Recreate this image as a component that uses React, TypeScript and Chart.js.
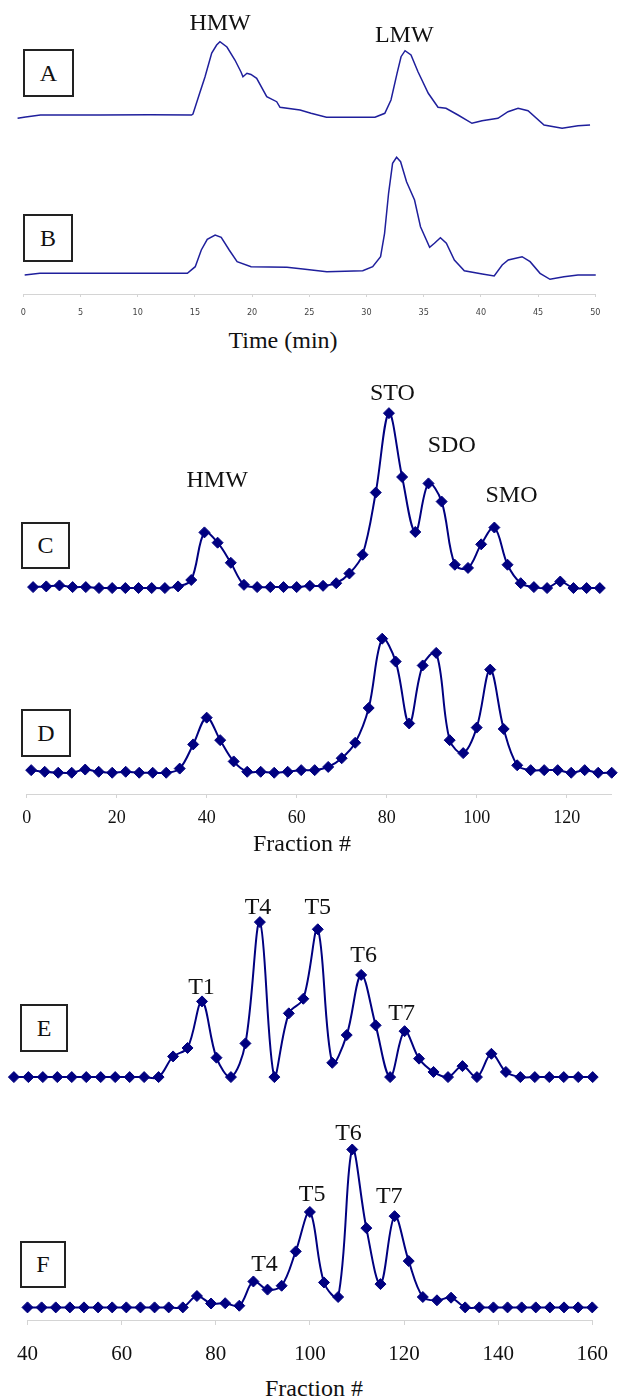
import { useEffect, useRef } from "react";
import { Chart, registerables } from "chart.js";

Chart.register(...registerables);

// ---------- Panel A / B : continuous traces (time in min, signal in arbitrary units) ----------
const timeA = [-0.5, 0.2, 1.5, 6.7, 11.1, 14.7, 14.83, 15.45, 15.88, 16.47, 16.9, 17.19, 17.8, 18.5, 19.03, 19.2, 19.55, 19.9, 20.4, 21.28, 22.15, 22.44, 24.19, 25.15, 26.5, 30.74, 31.6, 32.14, 32.67, 33.02, 33.37, 33.89, 34.5, 35.4, 36.25, 36.95, 38.0, 39.22, 40.1, 41.49, 42.37, 43.25, 44.12, 45.52, 47.1, 48.49, 49.54];
const signalA = [11.7, 13, 15, 15, 15.3, 15, 16, 38, 53, 77, 85, 88.3, 83, 70, 58, 53.3, 56.7, 55.5, 51.7, 33.3, 28.3, 22.7, 20, 16.7, 12.7, 12.7, 16.7, 30, 56.7, 73.3, 79.3, 75, 58.3, 36.7, 22.7, 21.7, 15, 6.7, 9.3, 11.7, 18.3, 21.7, 19.3, 5, 1.7, 4.3, 5];

const timeB = [0.12, 1.45, 14.34, 15.03, 15.56, 16.08, 16.77, 17.3, 18.0, 18.69, 19.91, 23.05, 24.44, 26.53, 29.67, 30.54, 31.23, 31.58, 31.93, 32.28, 32.63, 32.98, 33.5, 34.2, 34.72, 35.52, 35.94, 36.46, 36.98, 37.68, 38.55, 40.12, 41.16, 41.86, 42.39, 43.6, 44.3, 45.17, 46.04, 47.26, 48.48, 50.04];
const signalB = [19, 20.7, 20.7, 27.3, 44, 54.7, 59, 56.7, 44, 32.3, 27.3, 26.7, 25, 22.3, 23.3, 27.3, 37.3, 60.7, 100.7, 130.7, 136.7, 132.3, 112.3, 94, 67.3, 46.7, 50.7, 56.3, 50.7, 34, 23.3, 20, 18, 29, 34, 37.3, 32.3, 20.7, 14.7, 17.3, 19, 19];

const timeTicksStep = 5;

const peakNamesA = ["HMW", "LMW"];
const peakTimeA = [17.2, 33.3];
const peakLevelA = [106.5, 94];

// ---------- Panel C / D : fractions ----------
const fractionsCD = [1, 4, 7, 10, 13, 16, 19, 22, 25, 28, 31, 34, 37, 40, 43, 46, 49, 52, 55, 58, 61, 64, 67, 70, 73, 76, 79, 82, 85, 88, 91, 94, 97, 100, 103, 106, 109, 112, 115, 118, 121, 124, 127, 130];
const valuesC = [1, 1.7, 2.7, 1, 1, 0, 0, 0, 0, 0, 0, 1.7, 8.3, 57.3, 46.7, 26, 3.3, 1, 1, 1, 1, 2.3, 2.3, 5, 15, 34.3, 98.3, 180, 114.3, 57.7, 107.7, 89, 24, 20.7, 45, 62.3, 24, 5, 1, 0, 6.7, 0, 0, 0];
const valuesD = [2.7, 1, 0, 0, 3.3, 1, 0, 1, 0, 0, 0, 4.3, 29.3, 57, 33.7, 11.7, 1, 1, 0, 1, 2.7, 2.7, 6, 15, 31, 67, 138.7, 115, 51, 111, 124, 33.7, 20.3, 46.7, 106.7, 45.3, 7.7, 2.7, 2.7, 2.7, 0, 2.7, 0, 0];

const peakNamesC = ["HMW", "STO", "SDO", "SMO"];
const peakFracC = [42.9, 82.8, 96.3, 109.9];
const peakLevelC = [110, 200, 146, 95];

// ---------- Panel E / F : fractions ----------
const fractionsEF = [40, 43, 46, 49, 52, 55, 58, 61, 64, 67, 70, 73, 76, 79, 82, 85, 88, 91, 94, 97, 100, 103, 106, 109, 112, 115, 118, 121, 124, 127, 130, 133, 136, 139, 142, 145, 148, 151, 154, 157, 160];
const valuesE = [0, 0, 0, 0, 0, 0, 0, 0, 0, 0, 0, 21.3, 30, 78, 20, 0, 34.7, 159.7, 0, 65.7, 80.7, 152.3, 14.7, 43.3, 105.3, 53.3, 0, 47.3, 19, 5.3, 0, 11.3, 0, 24, 5.3, 0, 0, 0, 0, 0, 0];
const valuesF = [0, 0, 0, 0, 0, 0, 0, 0, 0, 0, 0, 0, 11.7, 4, 4.3, 1.7, 26.7, 18.3, 22.3, 57.7, 98.3, 25.7, 10.7, 162.7, 81.7, 24, 94, 47.7, 10.7, 7.3, 10, 0, 0, 0, 0, 0, 0, 0, 0, 0, 0];

const peakNamesE = ["T1", "T4", "T5", "T6", "T7"];
const peakFracE = [78.9, 90.6, 103.0, 112.5, 120.4];
const peakLevelE = [92, 175, 175, 125, 65];

const peakNamesF = ["T4", "T5", "T6", "T7"];
const peakFracF = [90.35, 100.47, 108.2, 116.86];
const peakLevelF = [43.7, 115.7, 178.7, 113.7];

const fractionTicksStep = 20;

// ---------- styling ----------
const SERIF = '"Liberation Serif", "Times New Roman", "DejaVu Serif", serif';
const NARROW = '"Liberation Sans Narrow", "Arial Narrow", "DejaVu Sans Condensed", "Liberation Sans", sans-serif';
const NAVY = "#000080";
const TRACE = "#1f1f9c";
const AXIS_GREY = "#d4d4d4";

type AxisSpec = {
  height: number;
  step: number;
  tickLength: number;
  padding: number;
  fontFamily: string;
  fontSize: number;
  color: string;
};

type PanelProps = {
  top: number;
  chartHeight: number;
  padL: number;
  padR: number;
  padB: number;
  xMin: number;
  xMax: number;
  yMin: number;
  yMax: number;
  xs: number[];
  ys: number[];
  markers: boolean;
  axis?: AxisSpec;
  labelTexts?: string[];
  labelX?: number[];
  labelY?: number[];
};

function Panel(p: PanelProps) {
  const ref = useRef<HTMLCanvasElement | null>(null);
  const axisH = p.axis ? p.axis.height : 0;
  const height = p.chartHeight + axisH + p.padB;

  useEffect(() => {
    if (!ref.current) return;
    const texts = p.labelTexts || [];
    const lx = p.labelX || [];
    const ly = p.labelY || [];
    const labelPlugin = {
      id: "peakLabels",
      afterDatasetsDraw(chart: any) {
        const { ctx } = chart;
        const xs = chart.scales.x;
        const ys = chart.scales.y;
        ctx.save();
        ctx.font = `24px ${SERIF}`;
        ctx.fillStyle = "#111";
        ctx.textAlign = "center";
        ctx.textBaseline = "middle";
        texts.forEach((t, i) => {
          ctx.fillText(t, xs.getPixelForValue(lx[i]), ys.getPixelForValue(ly[i]));
        });
        ctx.restore();
      },
    };

    const ax = p.axis;
    const xScale: any = {
      type: "linear",
      min: p.xMin,
      max: p.xMax,
      display: !!ax,
    };
    if (ax) {
      xScale.afterFit = (s: any) => {
        s.height = ax.height;
      };
      xScale.border = { display: true, color: AXIS_GREY, width: 1 };
      xScale.grid = {
        display: true,
        drawOnChartArea: false,
        drawTicks: true,
        tickLength: ax.tickLength,
        color: AXIS_GREY,
      };
      xScale.ticks = {
        stepSize: ax.step,
        includeBounds: false,
        padding: ax.padding,
        maxRotation: 0,
        autoSkip: false,
        color: ax.color,
        font: { family: ax.fontFamily, size: ax.fontSize },
      };
    }

    const chart = new Chart(ref.current, {
      type: "line",
      data: {
        datasets: [
          {
            data: p.xs.map((x, i) => ({ x, y: p.ys[i] })),
            borderColor: p.markers ? NAVY : TRACE,
            borderWidth: p.markers ? 2 : 1.5,
            pointRadius: p.markers ? 5.5 : 0,
            pointStyle: "rectRot",
            pointBackgroundColor: NAVY,
            pointBorderColor: NAVY,
            pointBorderWidth: 1,
            tension: p.markers ? 0.35 : 0,
            fill: false,
            clip: false as any,
          },
        ],
      },
      options: {
        responsive: false,
        animation: false,
        events: [],
        layout: { padding: { left: p.padL, right: p.padR, top: 0, bottom: p.padB } },
        plugins: { legend: { display: false }, tooltip: { enabled: false } },
        scales: {
          x: xScale,
          y: { type: "linear", min: p.yMin, max: p.yMax, display: false },
        },
      },
      plugins: [labelPlugin],
    } as any);
    return () => chart.destroy();
  }, []);

  return (
    <canvas
      ref={ref}
      width={625}
      height={height}
      style={{ position: "absolute", left: 0, top: p.top, width: 625, height }}
    />
  );
}

function LetterBox({ letter, x, y, w, h }: { letter: string; x: number; y: number; w: number; h: number }) {
  return (
    <div
      style={{
        position: "absolute",
        left: x,
        top: y,
        width: w,
        height: h,
        boxSizing: "border-box",
        border: "2px solid #222",
        display: "flex",
        alignItems: "center",
        justifyContent: "center",
        fontFamily: SERIF,
        fontSize: 24,
        color: "#111",
        background: "#fff",
      }}
    >
      {letter}
    </div>
  );
}

function AxisTitle({ text, cx, cy }: { text: string; cx: number; cy: number }) {
  return (
    <div
      style={{
        position: "absolute",
        left: cx - 100,
        top: cy - 14,
        width: 200,
        height: 28,
        lineHeight: "28px",
        textAlign: "center",
        fontFamily: SERIF,
        fontSize: 24,
        color: "#111",
      }}
    >
      {text}
    </div>
  );
}

export default function App() {
  const timeAxis: AxisSpec = {
    height: 30,
    step: timeTicksStep,
    tickLength: 3,
    padding: 10,
    fontFamily: NARROW,
    fontSize: 9,
    color: "#444",
  };
  const fracAxisD: AxisSpec = {
    height: 40,
    step: fractionTicksStep,
    tickLength: 4,
    padding: 9,
    fontFamily: SERIF,
    fontSize: 18,
    color: "#111",
  };
  const fracAxisF: AxisSpec = {
    height: 50,
    step: fractionTicksStep,
    tickLength: 5,
    padding: 17,
    fontFamily: SERIF,
    fontSize: 21,
    color: "#111",
  };

  return (
    <div style={{ position: "absolute", left: 0, top: 0, width: 625, height: 1400, background: "#fff" }}>
      <Panel
        top={0}
        chartHeight={130}
        padL={23.3}
        padR={29.7}
        padB={10}
        xMin={0}
        xMax={50}
        yMin={0}
        yMax={130}
        xs={timeA}
        ys={signalA}
        markers={false}
        labelTexts={peakNamesA}
        labelX={peakTimeA}
        labelY={peakLevelA}
      />
      <Panel
        top={150}
        chartHeight={144}
        padL={23.3}
        padR={29.7}
        padB={0}
        xMin={0}
        xMax={50}
        yMin={0}
        yMax={144}
        xs={timeB}
        ys={signalB}
        markers={false}
        axis={timeAxis}
      />
      <Panel
        top={360}
        chartHeight={230}
        padL={28.7}
        padR={25.2}
        padB={20}
        xMin={0}
        xMax={130}
        yMin={-2}
        yMax={228}
        xs={fractionsCD}
        ys={valuesC}
        markers={true}
        labelTexts={peakNamesC}
        labelX={peakFracC}
        labelY={peakLevelC}
      />
      <Panel
        top={600}
        chartHeight={194}
        padL={26.7}
        padR={13.3}
        padB={0}
        xMin={0}
        xMax={130}
        yMin={-22}
        yMax={172}
        xs={fractionsCD}
        ys={valuesD}
        markers={true}
        axis={fracAxisD}
      />
      <Panel
        top={860}
        chartHeight={220}
        padL={13.9}
        padR={32.3}
        padB={20}
        xMin={40}
        xMax={160}
        yMin={-3}
        yMax={217}
        xs={fractionsEF}
        ys={valuesE}
        markers={true}
        labelTexts={peakNamesE}
        labelX={peakFracE}
        labelY={peakLevelE}
      />
      <Panel
        top={1100}
        chartHeight={220}
        padL={15.3}
        padR={17.5}
        padB={0}
        xMin={40}
        xMax={160}
        yMin={-13}
        yMax={207}
        xs={fractionsEF}
        ys={valuesF}
        markers={true}
        axis={fracAxisF}
        labelTexts={peakNamesF}
        labelX={peakFracF}
        labelY={peakLevelF}
      />

      <LetterBox letter="A" x={23} y={49} w={51} h={48} />
      <LetterBox letter="B" x={23} y={214} w={50} h={48} />
      <LetterBox letter="C" x={21} y={522} w={49} h={47} />
      <LetterBox letter="D" x={21} y={709} w={50} h={48} />
      <LetterBox letter="E" x={20} y={1004} w={48} h={48} />
      <LetterBox letter="F" x={20} y={1241} w={46} h={47} />

      <AxisTitle text="Time (min)" cx={283} cy={340} />
      <AxisTitle text="Fraction #" cx={302} cy={843} />
      <AxisTitle text="Fraction #" cx={314} cy={1388} />
    </div>
  );
}
